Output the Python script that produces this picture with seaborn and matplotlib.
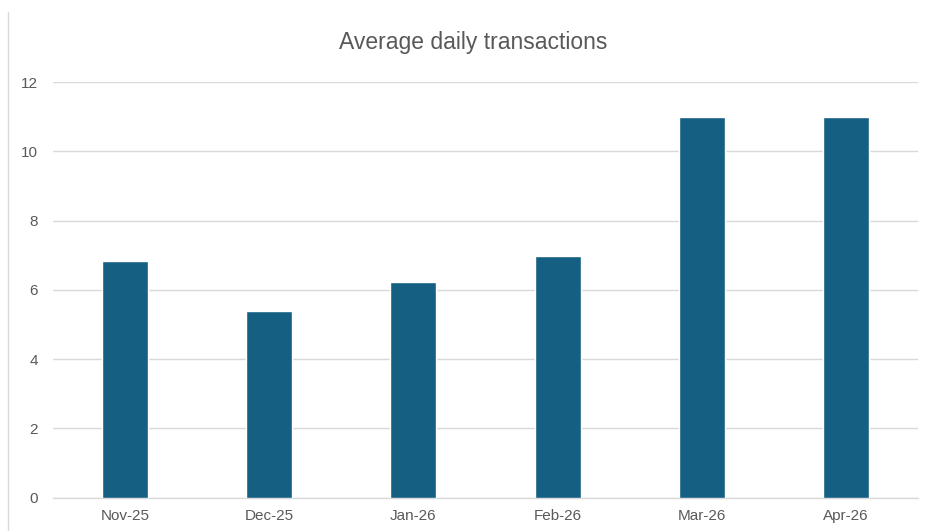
import matplotlib
matplotlib.use("Agg")
import matplotlib.pyplot as plt
import pandas as pd
import seaborn as sns
from matplotlib.lines import Line2D

months = ["Nov-25", "Dec-25", "Jan-26", "Feb-26", "Mar-26", "Apr-26"]
avg_daily = [6.82, 5.39, 6.22, 6.98, 11.0, 11.0]

df = pd.DataFrame({"month": months, "avg": avg_daily})

sns.set_theme(style="white")
plt.rcParams["font.family"] = ["Liberation Sans", "DejaVu Sans"]

fig = plt.figure(figsize=(9.26, 5.31), dpi=100)
ax = fig.add_axes([53 / 926, 1 - 497.7 / 531, 865 / 926, (497.7 - 82) / 531])

sns.barplot(data=df, x="month", y="avg", color="#156082", width=0.32,
            saturation=1, ax=ax, zorder=3)

ax.set_ylim(0, 12)
ax.set_yticks(range(0, 13, 2))
ax.set_xlim(-0.5, 5.5)
ax.grid(axis="y", color="#d9d9d9", linewidth=1, zorder=0)
for s in ["top", "right", "left"]:
    ax.spines[s].set_visible(False)
ax.spines["bottom"].set_color("#d9d9d9")
ax.spines["bottom"].set_linewidth(1)
ax.tick_params(axis="both", length=0, labelsize=11, labelcolor="#595959")
ax.tick_params(axis="y", pad=11)
ax.tick_params(axis="x", pad=8)
ax.set_xlabel("")
ax.set_ylabel("")

fig.text(473 / 926, 1 - 43 / 531, "Average daily transactions", ha="center",
         va="center", fontsize=16.5, color="#595959")

# thin frame line on the left edge
fig.add_artist(Line2D([8 / 926, 8 / 926], [0, 1 - 12 / 531], color="#d9d9d9",
                      linewidth=1, transform=fig.transFigure))

fig.savefig("out.png", dpi=100)
